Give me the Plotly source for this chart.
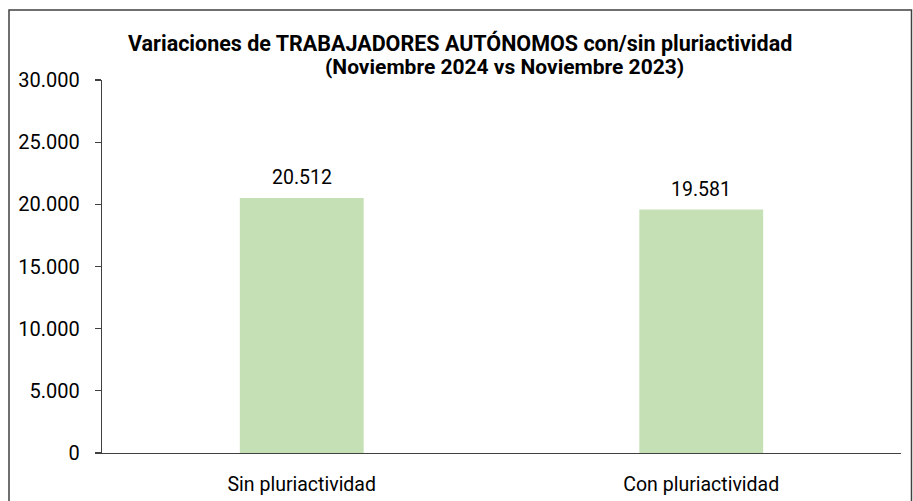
import plotly.graph_objects as go

categories = ["Sin pluriactividad", "Con pluriactividad"]
values = [20512, 19581]
title_line1 = "Variaciones de TRABAJADORES AUTÓNOMOS con/sin pluriactividad"
title_line2 = "(Noviembre 2024 vs Noviembre 2023)"

W, H = 913, 501
L, R, T, B = 102, 12, 80, 48
pw, ph = W - L - R, H - T - B

def px_x(x):
    return (x - L) / pw

def px_y(y):
    return (H - B - y) / ph

FONT = "Roboto"

fig = go.Figure()
fig.add_trace(go.Bar(
    x=categories, y=values,
    marker=dict(color="#C5E0B4", line=dict(width=0)),
    width=0.31,
    hoverinfo="skip",
))

for c, v in zip(categories, values):
    fig.add_annotation(
        x=c, y=v, xref="x", yref="y",
        text=f"{v:,}".replace(",", "."),
        showarrow=False, yanchor="bottom", yshift=7,
        font=dict(family=FONT, size=19.5, color="#000000"),
    )

fig.add_annotation(
    x=px_x(460), y=px_y(43), xref="paper", yref="paper",
    text="<b>" + title_line1 + "</b>", showarrow=False,
    xanchor="center", yanchor="middle",
    font=dict(family=FONT, size=21.5, color="#000000"),
)
fig.add_annotation(
    x=px_x(504), y=px_y(67), xref="paper", yref="paper",
    text="<b>" + title_line2 + "</b>", showarrow=False,
    xanchor="center", yanchor="middle",
    font=dict(family=FONT, size=21, color="#000000"),
)

fig.add_shape(
    type="rect", xref="paper", yref="paper",
    x0=px_x(9), x1=px_x(911.5), y0=px_y(10), y1=px_y(520),
    line=dict(color="#404040", width=1.5), fillcolor="rgba(0,0,0,0)",
    layer="above",
)

fig.update_layout(
    width=W, height=H,
    margin=dict(l=L, r=R, t=T, b=B, autoexpand=False),
    paper_bgcolor="white", plot_bgcolor="white",
    separators=",.",
    showlegend=False,
    font=dict(family=FONT, size=19.5, color="#000000"),
    xaxis=dict(
        showline=True, linecolor="#404040", linewidth=1.3,
        ticks="", showgrid=False, zeroline=False,
        tickfont=dict(family=FONT, size=19.5, color="#000000"),
        ticklabelstandoff=13,
        fixedrange=True,
    ),
    yaxis=dict(
        range=[0, 30000], dtick=5000, tick0=0,
        tickformat=",d",
        showline=True, linecolor="#404040", linewidth=1.3,
        ticks="outside", ticklen=6, tickcolor="#404040", tickwidth=1.3,
        showgrid=False, zeroline=False,
        tickfont=dict(family=FONT, size=20, color="#000000"),
        ticklabelstandoff=11,
        fixedrange=True,
    ),
)

fig.write_html(
    "out.html",
    config={"displayModeBar": False, "staticPlot": True},
    post_script="document.body.style.margin='0';document.body.style.overflow='hidden';",
)
